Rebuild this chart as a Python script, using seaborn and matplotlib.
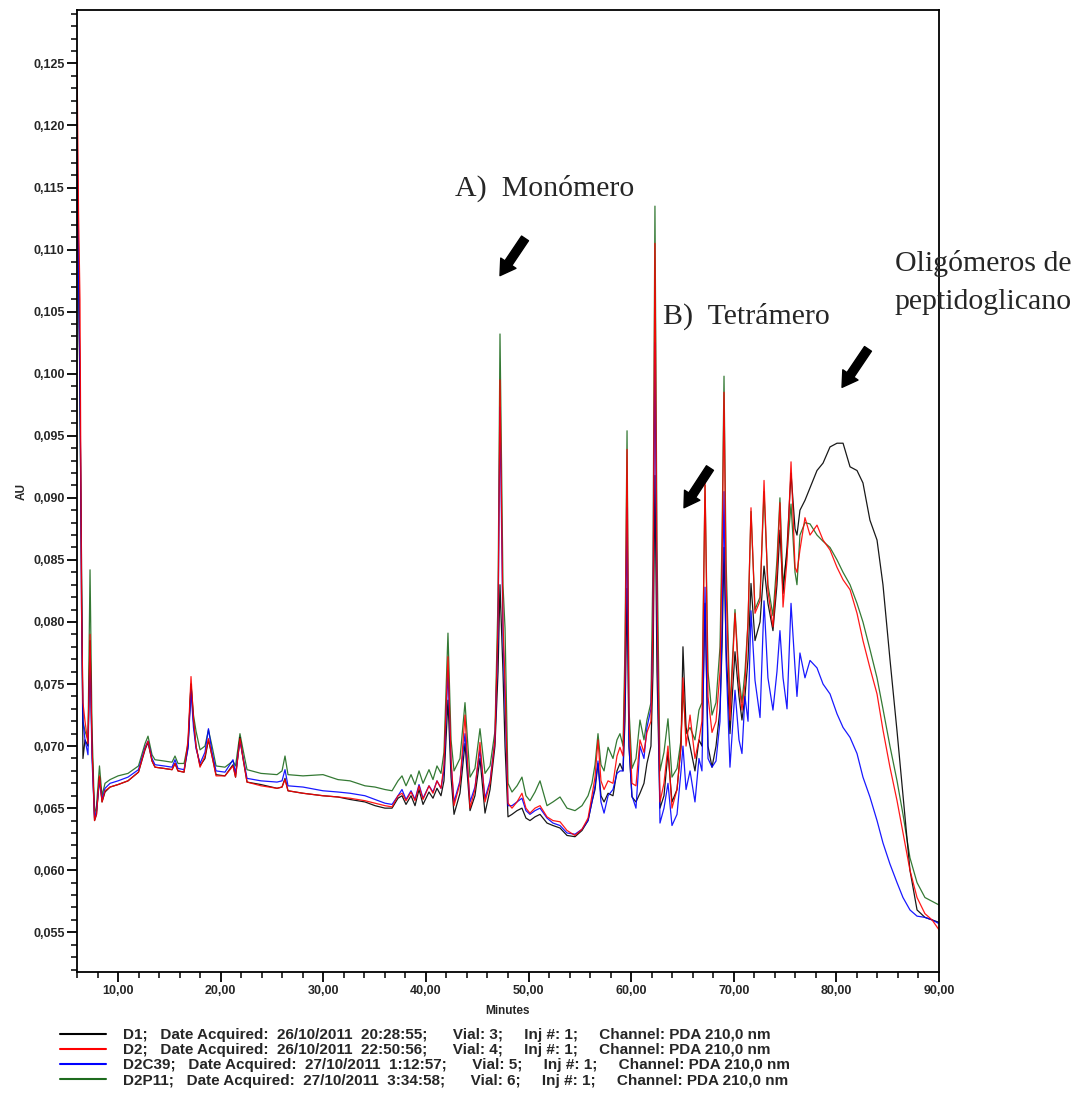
import matplotlib
matplotlib.use("Agg")
import matplotlib.pyplot as plt
from matplotlib.ticker import MultipleLocator, FuncFormatter
import seaborn as sns

# ---------------- data ----------------
time_min = [6.00, 6.15, 6.29, 6.44, 6.58, 6.78, 7.07, 7.27, 7.46, 7.71, 7.90, 8.19, 8.44, 8.73, 9.22,
            10.00, 10.97, 11.99, 12.63, 12.92, 13.31, 13.60, 14.48, 15.26, 15.55, 15.84, 16.43, 16.82,
            17.11, 17.35, 17.60, 17.99, 18.47, 18.81, 19.16, 19.55, 20.42, 21.20, 21.45, 21.88, 22.18,
            22.57, 23.93, 25.49, 25.98, 26.27, 26.56, 28.02, 29.97, 31.43, 32.60, 34.06, 35.04, 36.01,
            36.70, 37.28, 37.67, 38.06, 38.55, 38.94, 39.33, 39.72, 40.30, 40.69, 41.08, 41.47, 41.76,
            42.15, 42.45, 42.74, 43.32, 43.81, 44.30, 44.78, 45.27, 45.76, 46.25, 46.73, 47.03, 47.22,
            47.51, 47.71, 48.00, 48.39, 48.88, 49.36, 49.75, 50.14, 50.63, 51.12, 51.80, 52.38, 53.07,
            53.75, 54.53, 55.21, 55.80, 56.18, 56.48, 56.77, 57.06, 57.36, 57.75, 58.23, 58.62, 58.91,
            59.21, 59.40, 59.60, 59.79, 60.08, 60.47, 60.86, 61.25, 61.54, 61.93, 62.13, 62.32, 62.52,
            62.81, 63.20, 63.59, 63.98, 64.47, 64.86, 65.05, 65.35, 65.74, 66.22, 66.61, 66.90, 67.20,
            67.49, 67.88, 68.27, 68.66, 68.86, 69.05, 69.25, 69.63, 70.12, 70.51, 70.80, 71.09, 71.39,
            71.68, 72.07, 72.56, 72.95, 73.33, 73.82, 74.21, 74.50, 74.80, 75.19, 75.58, 75.97, 76.16,
            76.45, 76.94, 77.43, 78.11, 78.70, 79.38, 80.06, 80.65, 81.33, 82.01, 82.59, 83.27, 83.96,
            84.54, 85.22, 85.91, 86.49, 87.17, 87.86, 88.63, 89.32, 90.00]

d1 = [0.1180, 0.1100, 0.0980, 0.0850, 0.0690, 0.0705, 0.0700, 0.0785, 0.0700, 0.0640, 0.0645, 0.0675, 0.0655, 0.0663, 0.0667,
      0.0669, 0.0672, 0.0679, 0.0697, 0.0703, 0.0688, 0.0683, 0.0682, 0.0681, 0.0686, 0.0680, 0.0679, 0.0700,
      0.0750, 0.0720, 0.0700, 0.0684, 0.0690, 0.0705, 0.0692, 0.0677, 0.0676, 0.0685, 0.0675, 0.0707, 0.0690,
      0.0671, 0.0669, 0.0666, 0.0667, 0.0674, 0.0664, 0.0662, 0.0660, 0.0659, 0.0657, 0.0655, 0.0652, 0.0650,
      0.0650, 0.0658, 0.0660, 0.0653, 0.0660, 0.0652, 0.0665, 0.0653, 0.0663, 0.0658, 0.0666, 0.0660, 0.0672,
      0.0737, 0.0675, 0.0645, 0.0662, 0.0702, 0.0648, 0.0660, 0.0690, 0.0646, 0.0665, 0.0700, 0.0760, 0.0830,
      0.0760, 0.0700, 0.0643, 0.0645, 0.0648, 0.0650, 0.0642, 0.0640, 0.0643, 0.0645, 0.0638, 0.0636, 0.0634,
      0.0628, 0.0627, 0.0632, 0.0640, 0.0655, 0.0665, 0.0686, 0.0660, 0.0655, 0.0662, 0.0660, 0.0680, 0.0686,
      0.0680, 0.0720, 0.0827, 0.0700, 0.0659, 0.0655, 0.0662, 0.0670, 0.0686, 0.0700, 0.0760, 0.0918, 0.0760,
      0.0650, 0.0660, 0.0695, 0.0655, 0.0665, 0.0700, 0.0780, 0.0715, 0.0700, 0.0680, 0.0705, 0.0700, 0.0815,
      0.0700, 0.0683, 0.0700, 0.0730, 0.0780, 0.0860, 0.0780, 0.0710, 0.0776, 0.0740, 0.0721, 0.0740, 0.0770,
      0.0831, 0.0785, 0.0800, 0.0845, 0.0815, 0.0793, 0.0830, 0.0874, 0.0823, 0.0860, 0.0920, 0.0875, 0.0870,
      0.0890, 0.0898, 0.0908, 0.0922, 0.0928, 0.0941, 0.0944, 0.0944, 0.0925, 0.0922, 0.0912, 0.0882, 0.0866,
      0.0830, 0.0770, 0.0712, 0.0660, 0.0600, 0.0568, 0.0562, 0.0560, 0.0558]

d2 = [0.1255, 0.1130, 0.1060, 0.0815, 0.0735, 0.0720, 0.0702, 0.0790, 0.0700, 0.0640, 0.0645, 0.0676, 0.0655, 0.0664, 0.0667,
      0.0669, 0.0672, 0.0679, 0.0698, 0.0704, 0.0688, 0.0683, 0.0682, 0.0681, 0.0686, 0.0680, 0.0679, 0.0705,
      0.0756, 0.0722, 0.0700, 0.0683, 0.0692, 0.0706, 0.0692, 0.0676, 0.0676, 0.0684, 0.0675, 0.0706, 0.0690,
      0.0671, 0.0668, 0.0666, 0.0667, 0.0673, 0.0664, 0.0662, 0.0660, 0.0659, 0.0658, 0.0656, 0.0654, 0.0652,
      0.0651, 0.0660, 0.0662, 0.0656, 0.0663, 0.0656, 0.0668, 0.0657, 0.0668, 0.0662, 0.0672, 0.0666, 0.0685,
      0.0772, 0.0690, 0.0652, 0.0670, 0.0725, 0.0650, 0.0665, 0.0703, 0.0655, 0.0670, 0.0705, 0.0800, 0.0995,
      0.0800, 0.0750, 0.0654, 0.0650, 0.0655, 0.0662, 0.0650, 0.0646, 0.0650, 0.0652, 0.0643, 0.0640, 0.0639,
      0.0632, 0.0628, 0.0633, 0.0642, 0.0660, 0.0675, 0.0705, 0.0672, 0.0665, 0.0672, 0.0670, 0.0692, 0.0699,
      0.0692, 0.0760, 0.0939, 0.0720, 0.0670, 0.0668, 0.0705, 0.0695, 0.0711, 0.0720, 0.0800, 0.1105, 0.0820,
      0.0655, 0.0670, 0.0700, 0.0650, 0.0665, 0.0700, 0.0755, 0.0700, 0.0725, 0.0690, 0.0705, 0.0720, 0.0914,
      0.0740, 0.0711, 0.0720, 0.0760, 0.0850, 0.0985, 0.0830, 0.0721, 0.0807, 0.0750, 0.0729, 0.0750, 0.0800,
      0.0892, 0.0807, 0.0817, 0.0914, 0.0825, 0.0796, 0.0840, 0.0896, 0.0812, 0.0850, 0.0929, 0.0844, 0.0840,
      0.0858, 0.0884, 0.0870, 0.0878, 0.0866, 0.0858, 0.0844, 0.0834, 0.0826, 0.0807, 0.0785, 0.0763, 0.0742,
      0.0713, 0.0683, 0.0656, 0.0630, 0.0600, 0.0578, 0.0565, 0.0560, 0.0552]

d2c39 = [0.1215, 0.1080, 0.1000, 0.0810, 0.0720, 0.0705, 0.0693, 0.0775, 0.0690, 0.0642, 0.0648, 0.0672, 0.0657, 0.0666, 0.0670,
         0.0672, 0.0675, 0.0681, 0.0699, 0.0704, 0.0690, 0.0685, 0.0684, 0.0683, 0.0689, 0.0682, 0.0681, 0.0698,
         0.0745, 0.0715, 0.0698, 0.0686, 0.0695, 0.0714, 0.0695, 0.0680, 0.0679, 0.0689, 0.0678, 0.0704, 0.0691,
         0.0674, 0.0672, 0.0671, 0.0672, 0.0681, 0.0668, 0.0667, 0.0664, 0.0663, 0.0662, 0.0660, 0.0657, 0.0654,
         0.0653, 0.0660, 0.0665, 0.0657, 0.0664, 0.0657, 0.0669, 0.0658, 0.0668, 0.0663, 0.0672, 0.0666, 0.0680,
         0.0761, 0.0685, 0.0655, 0.0672, 0.0710, 0.0655, 0.0667, 0.0697, 0.0658, 0.0672, 0.0705, 0.0790, 0.0973,
         0.0790, 0.0735, 0.0652, 0.0652, 0.0655, 0.0658, 0.0648, 0.0645, 0.0648, 0.0650, 0.0642, 0.0638, 0.0636,
         0.0630, 0.0629, 0.0633, 0.0640, 0.0655, 0.0668, 0.0688, 0.0655, 0.0646, 0.0660, 0.0665, 0.0678, 0.0680,
         0.0680, 0.0740, 0.0892, 0.0700, 0.0660, 0.0650, 0.0700, 0.0690, 0.0715, 0.0730, 0.0800, 0.1025, 0.0800,
         0.0638, 0.0650, 0.0670, 0.0636, 0.0645, 0.0680, 0.0700, 0.0665, 0.0680, 0.0655, 0.0690, 0.0680, 0.0828,
         0.0690, 0.0683, 0.0688, 0.0720, 0.0800, 0.0905, 0.0770, 0.0683, 0.0745, 0.0705, 0.0694, 0.0740, 0.0720,
         0.0809, 0.0753, 0.0723, 0.0817, 0.0755, 0.0729, 0.0760, 0.0793, 0.0755, 0.0730, 0.0815, 0.0763, 0.0740,
         0.0775, 0.0755, 0.0769, 0.0763, 0.0750, 0.0742, 0.0726, 0.0715, 0.0707, 0.0694, 0.0675, 0.0659, 0.0640,
         0.0622, 0.0605, 0.0590, 0.0578, 0.0568, 0.0563, 0.0562, 0.0560, 0.0557]

d2p11 = [0.1190, 0.1090, 0.0980, 0.0830, 0.0720, 0.0712, 0.0705, 0.0842, 0.0715, 0.0645, 0.0652, 0.0684, 0.0660, 0.0670, 0.0673,
         0.0676, 0.0678, 0.0684, 0.0702, 0.0708, 0.0693, 0.0689, 0.0688, 0.0687, 0.0692, 0.0686, 0.0686, 0.0702,
         0.0750, 0.0725, 0.0712, 0.0697, 0.0700, 0.0713, 0.0700, 0.0684, 0.0683, 0.0688, 0.0684, 0.0710, 0.0697,
         0.0681, 0.0678, 0.0677, 0.0680, 0.0692, 0.0677, 0.0676, 0.0677, 0.0673, 0.0672, 0.0668, 0.0667, 0.0665,
         0.0664, 0.0672, 0.0676, 0.0668, 0.0677, 0.0669, 0.0680, 0.0670, 0.0681, 0.0673, 0.0684, 0.0678, 0.0695,
         0.0791, 0.0705, 0.0680, 0.0690, 0.0735, 0.0675, 0.0682, 0.0714, 0.0678, 0.0684, 0.0712, 0.0820, 0.1032,
         0.0830, 0.0795, 0.0670, 0.0663, 0.0668, 0.0675, 0.0660, 0.0656, 0.0663, 0.0672, 0.0652, 0.0655, 0.0659,
         0.0650, 0.0648, 0.0652, 0.0660, 0.0670, 0.0685, 0.0710, 0.0685, 0.0680, 0.0699, 0.0690, 0.0705, 0.0710,
         0.0700, 0.0780, 0.0954, 0.0730, 0.0682, 0.0690, 0.0721, 0.0705, 0.0721, 0.0735, 0.0850, 0.1135, 0.0860,
         0.0680, 0.0695, 0.0722, 0.0675, 0.0682, 0.0705, 0.0745, 0.0710, 0.0715, 0.0705, 0.0729, 0.0735, 0.0910,
         0.0760, 0.0725, 0.0735, 0.0780, 0.0870, 0.0998, 0.0850, 0.0730, 0.0810, 0.0755, 0.0735, 0.0760, 0.0800,
         0.0889, 0.0810, 0.0820, 0.0905, 0.0830, 0.0805, 0.0850, 0.0900, 0.0830, 0.0855, 0.0895, 0.0840, 0.0830,
         0.0870, 0.0880, 0.0879, 0.0870, 0.0865, 0.0860, 0.0850, 0.0840, 0.0830, 0.0815, 0.0800, 0.0778, 0.0755,
         0.0730, 0.0700, 0.0672, 0.0645, 0.0610, 0.0590, 0.0578, 0.0575, 0.0572]

series_names = ["D1", "D2", "D2C39", "D2P11"]
series_colors = ["#000000", "#ff0000", "#0000ff", "#1e6b1e"]
legend_labels = [
    "D1;   Date Acquired:  26/10/2011  20:28:55;      Vial: 3;     Inj #: 1;     Channel: PDA 210,0 nm",
    "D2;   Date Acquired:  26/10/2011  22:50:56;      Vial: 4;     Inj #: 1;     Channel: PDA 210,0 nm",
    "D2C39;   Date Acquired:  27/10/2011  1:12:57;      Vial: 5;     Inj #: 1;     Channel: PDA 210,0 nm",
    "D2P11;   Date Acquired:  27/10/2011  3:34:58;      Vial: 6;     Inj #: 1;     Channel: PDA 210,0 nm",
]
x_ticks = [10, 20, 30, 40, 50, 60, 70, 80, 90]
y_ticks = [0.055, 0.060, 0.065, 0.070, 0.075, 0.080, 0.085, 0.090, 0.095, 0.100,
           0.105, 0.110, 0.115, 0.120, 0.125]

# ---------------- style ----------------
sns.set_theme(style="ticks")
plt.rcParams["font.family"] = ["Liberation Sans", "DejaVu Sans"]
serif = ["Liberation Serif", "DejaVu Serif"]

fig = plt.figure(figsize=(10.88, 11.04), dpi=100)
ax = fig.add_axes([77 / 1088, 1 - 972 / 1104, (939 - 77) / 1088, (972 - 10) / 1104])

series_values = [d1, d2, d2c39, d2p11]
draw_order = [3, 0, 2, 1]
handles = {}
for i in draw_order:
    sns.lineplot(x=time_min, y=series_values[i], ax=ax, color=series_colors[i],
                 linewidth=0.9, estimator=None, sort=False, alpha=0.9)
    handles[i] = ax.lines[-1]

ax.set_xlim(6, 90)
ax.set_ylim(0.0518, 0.1293)
ax.set_xticks(x_ticks)
ax.set_yticks(y_ticks)
ax.xaxis.set_minor_locator(MultipleLocator(2))
ax.yaxis.set_minor_locator(MultipleLocator(0.001))
ax.xaxis.set_major_formatter(FuncFormatter(lambda v, p: f"{v:.2f}".replace(".", ",")))
ax.yaxis.set_major_formatter(FuncFormatter(lambda v, p: f"{v:.3f}".replace(".", ",")))
ax.tick_params(axis="both", which="major", direction="out", length=7, width=1.3,
               labelsize=9, color="black", pad=2)
ax.tick_params(axis="both", which="minor", direction="out", length=4, width=1.1, color="black")
for lab in ax.get_xticklabels() + ax.get_yticklabels():
    lab.set_fontweight("bold")
for s in ax.spines.values():
    s.set_visible(True)
    s.set_linewidth(1.3)
    s.set_color("black")

ax.set_xlabel("Minutes", fontsize=8.5, fontweight="bold", labelpad=6)
ax.set_ylabel("AU", fontsize=8.5, fontweight="bold", labelpad=4)

# annotations
ann_size = 21.5
ax.text(42.85, 0.1149, "A)  Monómero", family=serif, fontsize=ann_size, va="center", ha="left")
ax.text(63.1, 0.1046, "B)  Tetrámero", family=serif, fontsize=ann_size, va="center", ha="left")
ax.text(85.7, 0.1089, "Oligómeros de", family=serif, fontsize=ann_size, va="center", ha="left",
        clip_on=False)
ax.text(85.7, 0.1058, "peptidoglicano", family=serif, fontsize=ann_size, va="center", ha="left",
        clip_on=False)

arrows = [((49.66, 0.1109), (47.22, 0.1079)),
          ((67.68, 0.0924), (65.15, 0.0892)),
          ((83.08, 0.1020), (80.55, 0.0989))]
for tail, tip in arrows:
    ax.annotate("", xy=tip, xytext=tail,
                arrowprops=dict(arrowstyle="simple,head_length=0.9,head_width=1.1,tail_width=0.5",
                                color="black", shrinkA=0, shrinkB=0))

leg = fig.legend([handles[i] for i in range(4)], legend_labels, loc="upper left",
                 bbox_to_anchor=(60 / 1088, 1 - 1028 / 1104), frameon=False,
                 fontsize=11, handlelength=3.0, handletextpad=1.1, labelspacing=0.08,
                 borderpad=0, borderaxespad=0)
for t in leg.get_texts():
    t.set_fontweight("bold")
for l in leg.get_lines():
    l.set_linewidth(1.5)
    l.set_alpha(1)

fig.savefig("out.png", dpi=100)
